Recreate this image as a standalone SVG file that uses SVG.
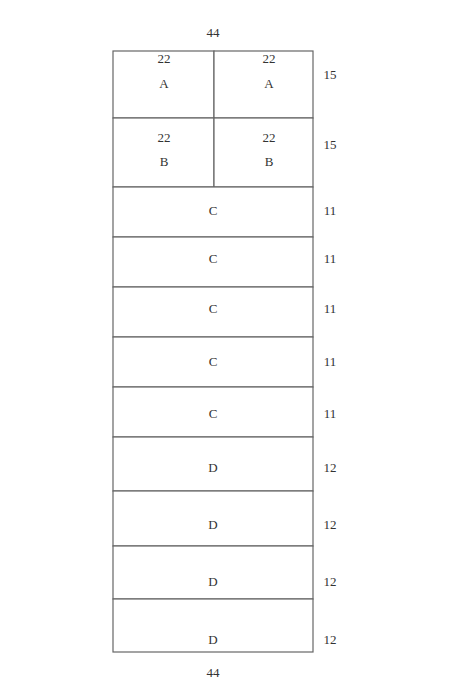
<svg xmlns="http://www.w3.org/2000/svg" width="450" height="700" viewBox="0 0 450 700">
<style>
.cell{fill:#fff;stroke:#666;stroke-width:1.2}
text{font-family:"Liberation Serif","Times New Roman",serif;font-size:13px;fill:#333;text-anchor:middle}
</style>
<rect width="450" height="700" fill="#fff"/>
<text x="213" y="37">44</text>
<g id="A1"><rect class="cell" x="113" y="51" width="101" height="67"/><text x="164" y="63">22</text><text x="164" y="88">A</text></g>
<g id="A2"><rect class="cell" x="214" y="51" width="99" height="67"/><text x="269" y="63">22</text><text x="269" y="88">A</text></g>
<text x="330" y="79">15</text>
<g id="B1"><rect class="cell" x="113" y="118" width="101" height="69"/><text x="164" y="142">22</text><text x="164" y="166">B</text></g>
<g id="B2"><rect class="cell" x="214" y="118" width="99" height="69"/><text x="269" y="142">22</text><text x="269" y="166">B</text></g>
<text x="330" y="149">15</text>
<g id="C1"><rect class="cell" x="113" y="187" width="200" height="50"/><text x="213" y="215">C</text></g>
<text x="330" y="215">11</text>
<g id="C2"><rect class="cell" x="113" y="237" width="200" height="50"/><text x="213" y="263">C</text></g>
<text x="330" y="263">11</text>
<g id="C3"><rect class="cell" x="113" y="287" width="200" height="50"/><text x="213" y="313">C</text></g>
<text x="330" y="313">11</text>
<g id="C4"><rect class="cell" x="113" y="337" width="200" height="50"/><text x="213" y="366">C</text></g>
<text x="330" y="366">11</text>
<g id="C5"><rect class="cell" x="113" y="387" width="200" height="50"/><text x="213" y="418">C</text></g>
<text x="330" y="418">11</text>
<g id="D1"><rect class="cell" x="113" y="437" width="200" height="54"/><text x="213" y="472">D</text></g>
<text x="330" y="472">12</text>
<g id="D2"><rect class="cell" x="113" y="491" width="200" height="55"/><text x="213" y="529">D</text></g>
<text x="330" y="529">12</text>
<g id="D3"><rect class="cell" x="113" y="546" width="200" height="53"/><text x="213" y="586">D</text></g>
<text x="330" y="586">12</text>
<g id="D4"><rect class="cell" x="113" y="599" width="200" height="53"/><text x="213" y="644">D</text></g>
<text x="330" y="644">12</text>
<text x="213" y="677">44</text>
<g id="connectors"></g>
</svg>
